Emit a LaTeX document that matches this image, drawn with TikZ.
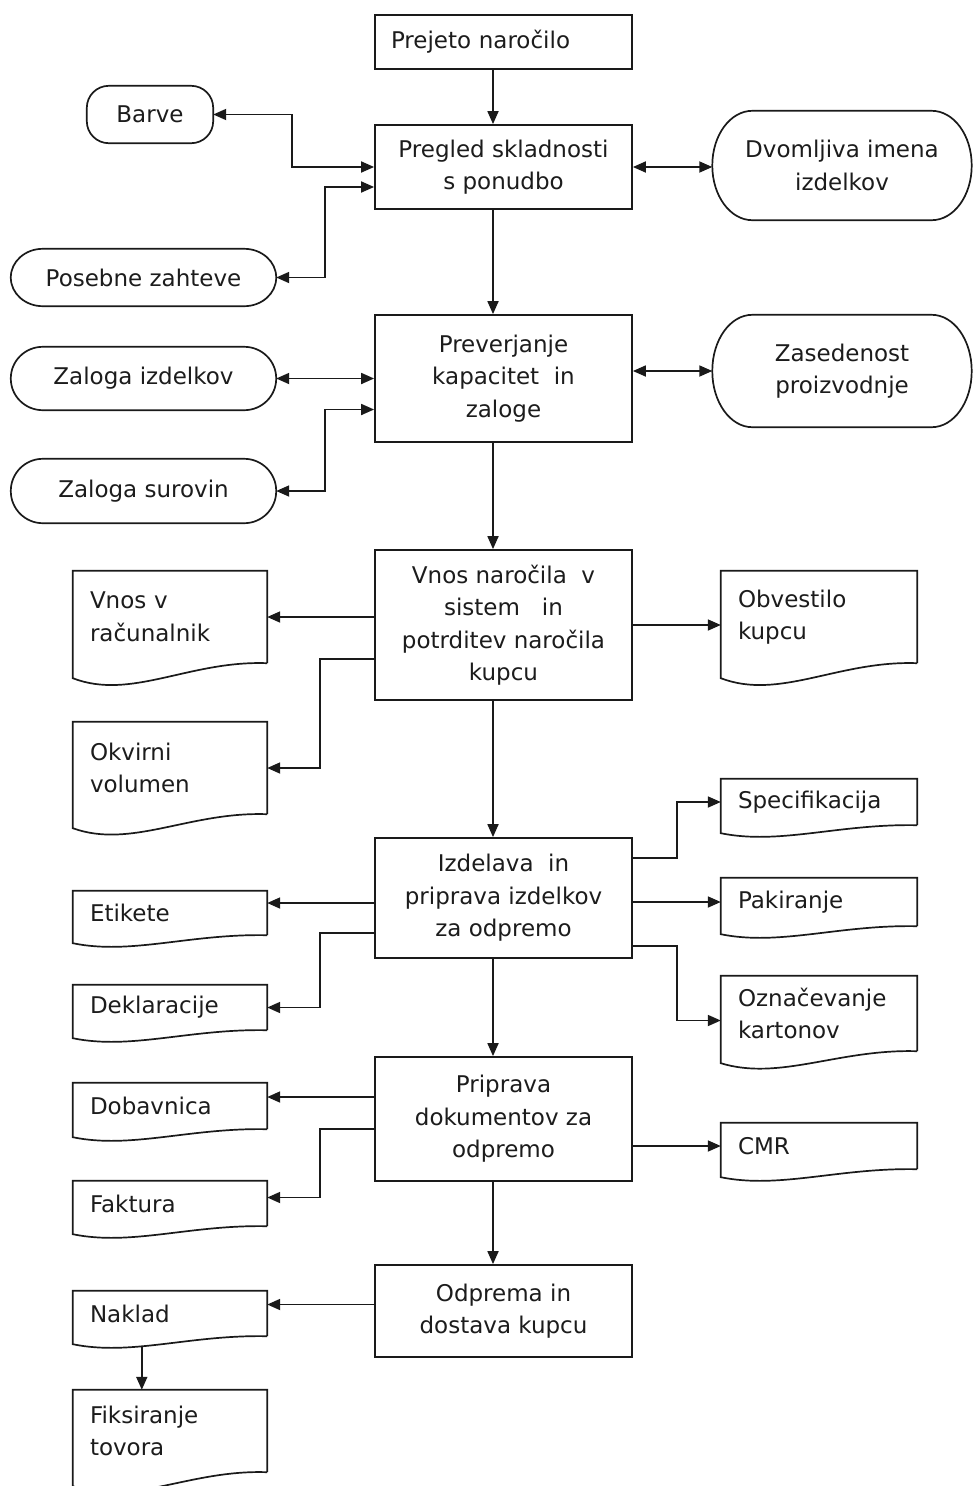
\documentclass[tikz,border=0pt]{standalone}
\usepackage{fontspec}
\setmainfont{DejaVu Sans}
\usetikzlibrary{calc,arrows.meta}
\definecolor{ln}{HTML}{1A1A1A}
\definecolor{tx}{HTML}{1C1C1C}
\tikzset{
  every node/.style={font={\fontsize{23}{32.5}\selectfont}, text=tx, inner sep=0pt},
  proc/.style={draw=ln, line width=1.8pt, minimum width=257pt, align=center},
  term/.style={align=center},
  docl/.style={align=left, inner xsep=17pt, text width=160pt},
  docr/.style={align=left, inner xsep=17pt, text width=162pt},
  outl/.style={draw=ln, line width=1.7pt},
  arr/.style={draw=ln, line width=1.8pt, -{Triangle[length=13pt,width=11pt]}},
  arrb/.style={draw=ln, line width=1.8pt, {Triangle[length=13pt,width=11pt]}-{Triangle[length=13pt,width=11pt]}},
}
\newcommand\mydoc[2]{\draw[outl] (#1.south east) -- (#1.north east) -- (#1.north west) -- ($(#1.south west)+(0,#2)$) .. controls ($(#1.south west)!0.3!(#1.south east)+(0,2.5*#2)$) and ($(#1.south west)!0.6!(#1.south east)+(0,-0.2*#2)$) .. (#1.south east);}
\newcommand\myterm[3]{\draw[outl] ($(#1.north west)+(#2,0)$) -- ($(#1.north east)+(-#2,0)$) .. controls ($(#1.north east)+(-0.448*#2,0)$) and ($(#1.north east)+(0,0.448*#3)$) .. ($(#1.north east)+(0,#3)$) -- ($(#1.south east)+(0,-#3)$) .. controls ($(#1.south east)+(0,-0.448*#3)$) and ($(#1.south east)+(-0.448*#2,0)$) .. ($(#1.south east)+(-#2,0)$) -- ($(#1.south west)+(#2,0)$) .. controls ($(#1.south west)+(0.448*#2,0)$) and ($(#1.south west)+(0,-0.448*#3)$) .. ($(#1.south west)+(0,-#3)$) -- ($(#1.north west)+(0,#3)$) .. controls ($(#1.north west)+(0,0.448*#3)$) and ($(#1.north west)+(0.448*#2,0)$) .. cycle;}
\begin{document}
\begin{tikzpicture}[x=1pt,y=-1pt]
\fill[white] (0,0) rectangle (972,1486);
\useasboundingbox (0,0) rectangle (972,1486);
% process boxes
\node[proc, align=left, text width=225pt, inner xsep=16pt, minimum height=54pt] (prejeto) at (503.5,42) {Prejeto naročilo};
\node[proc, minimum height=84pt] (pregled) at (503.5,167) {Pregled skladnosti\\s ponudbo};
\node[proc, minimum height=127pt] (prever) at (503.5,378.5) {Preverjanje\\kapacitet\ \ in\\zaloge};
\node[proc, minimum height=150pt] (vnos) at (503.5,625) {Vnos naročila\ \ v\\sistem\ \ \ in\\potrditev naročila\\kupcu};
\node[proc, minimum height=120pt] (izd) at (503.5,898) {Izdelava\ \ in\\priprava izdelkov\\za odpremo};
\node[proc, minimum height=124pt] (prip) at (503.5,1119) {Priprava\\dokumentov za\\odpremo};
\node[proc, minimum height=92pt] (odp) at (503.5,1311) {Odprema in\\dostava kupcu};
% terminators
\node[term, minimum width=126pt, minimum height=57pt] (barve) at (150,114.5) {Barve};
\myterm{barve}{22}{22}
\node[term, minimum width=265pt, minimum height=57pt] (posebne) at (143.5,277.5) {Posebne zahteve};
\myterm{posebne}{32}{28.5}
\node[term, minimum width=259pt, minimum height=109pt] (dvom) at (842,165.5) {Dvomljiva imena\\izdelkov};
\myterm{dvom}{40}{54.5}
\node[term, minimum width=265pt, minimum height=63pt] (zi) at (143.5,378.5) {Zaloga izdelkov};
\myterm{zi}{32}{31.5}
\node[term, minimum width=265pt, minimum height=64pt] (zs) at (143.5,491) {Zaloga surovin};
\myterm{zs}{32}{32}
\node[term, minimum width=259pt, minimum height=112pt] (zased) at (842,371) {Zasedenost\\proizvodnje};
\myterm{zased}{40}{56}
% documents
\node[docl, minimum height=92pt] (racun) at (170,617) {Vnos v\\računalnik};
\mydoc{racun}{15}
\node[docl, minimum height=92pt] (okv) at (170,768) {Okvirni\\volumen};
\mydoc{okv}{14}
\node[docl, minimum height=44pt] (etik) at (170,913) {Etikete};
\mydoc{etik}{8}
\node[docl, minimum height=45pt] (dekl) at (170,1007.5) {Deklaracije};
\mydoc{dekl}{8}
\node[docl, minimum height=46pt] (dob) at (170,1106) {Dobavnica};
\mydoc{dob}{8}
\node[docl, minimum height=45pt] (fakt) at (170,1203.5) {Faktura};
\mydoc{fakt}{8}
\node[docl, minimum height=45pt] (nak) at (170,1313.5) {Naklad};
\mydoc{nak}{8}
\node[docl, minimum height=82pt] (fiks) at (170,1431) {Fiksiranje\\tovora};
\mydoc{fiks}{14}
\node[docr, minimum height=92pt] (obv) at (819,617) {Obvestilo\\kupcu};
\mydoc{obv}{15}
\node[docr, minimum height=46pt] (spec) at (819,802) {Specifikacija};
\mydoc{spec}{8}
\node[docr, minimum height=48pt] (pak) at (819,902) {Pakiranje};
\mydoc{pak}{8}
\node[docr, minimum height=75pt] (ozn) at (819,1013.5) {Označevanje\\kartonov};
\mydoc{ozn}{12}
\node[docr, minimum height=46pt] (cmr) at (819,1146) {CMR};
\mydoc{cmr}{8}
% connectors
\draw[arr] ([xshift=-10.5pt]prejeto.south) -- ([xshift=-10.5pt]pregled.north);
\draw[arrb] (barve.east) -| ($(pregled.west)+(-82,0)$) -- (pregled.west);
\draw[arrb] (posebne.east) -| ($(pregled.west)+(-49,20)$) -- ($(pregled.west)+(0,20)$);
\draw[arrb] (pregled.east) -- (dvom.west |- pregled.east);
\draw[arr] ([xshift=-10.5pt]pregled.south) -- ([xshift=-10.5pt]prever.north);
\draw[arrb] (zi.east) -- (prever.west |- zi.east);
\draw[arrb] (zs.east) -| ($(prever.west)+(-49,31)$) -- ($(prever.west)+(0,31)$);
\draw[arrb] (prever.east |- zased.west) -- (zased.west);
\draw[arr] ([xshift=-10.5pt]prever.south) -- ([xshift=-10.5pt]vnos.north);
\draw[arr] (vnos.west |- racun.east) -- (racun.east);
\draw[arr] ($(vnos.west)+(0,34)$) -| ($(okv.east)+(53,0)$) -- (okv.east);
\draw[arr] (vnos.east) -- (obv.west |- vnos.east);
\draw[arr] ([xshift=-10.5pt]vnos.south) -- ([xshift=-10.5pt]izd.north);
\draw[arr] ($(izd.east)+(0,-40)$) -| ($(spec.west)+(-44,0)$) -- (spec.west);
\draw[arr] (izd.east |- pak.west) -- (pak.west);
\draw[arr] ($(izd.east)+(0,48)$) -| ($(ozn.west)+(-44,7)$) -- ($(ozn.west)+(0,7)$);
\coordinate (etikin) at ($(etik.east)+(0,-10)$);
\draw[arr] (izd.west |- etikin) -- (etikin);
\draw[arr] ($(izd.west)+(0,35)$) -| ($(dekl.east)+(53,0)$) -- (dekl.east);
\draw[arr] ([xshift=-10.5pt]izd.south) -- ([xshift=-10.5pt]prip.north);
\coordinate (dobin) at ($(dob.east)+(0,-9)$);
\draw[arr] (prip.west |- dobin) -- (dobin);
\draw[arr] ($(prip.west)+(0,10)$) -| ($(fakt.east)+(53,-6)$) -- ($(fakt.east)+(0,-6)$);
\draw[arr] (prip.east |- cmr.west) -- (cmr.west);
\draw[arr] ([xshift=-10.5pt]prip.south) -- ([xshift=-10.5pt]odp.north);
\coordinate (nakin) at ($(nak.east)+(0,-9)$);
\draw[arr] (odp.west |- nakin) -- (nakin);
\coordinate (nakout) at ($(nak.south west)+(69,11)$);
\draw[arr] (nakout) -- (nakout |- fiks.north);
\end{tikzpicture}
\end{document}
